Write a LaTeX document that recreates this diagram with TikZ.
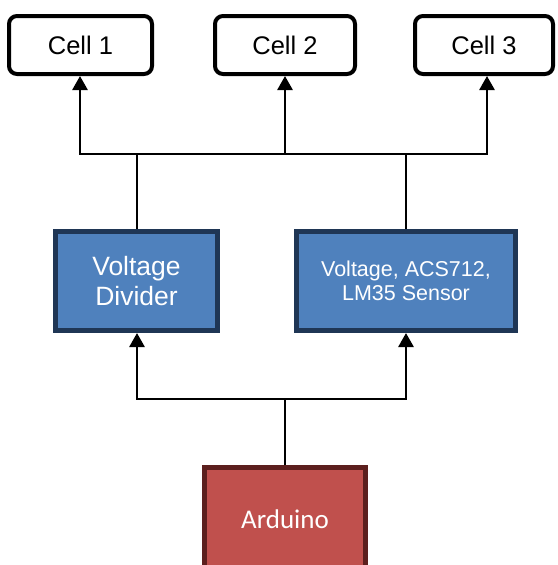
\documentclass[tikz,border=0pt]{standalone}
\usepackage{fontspec}
\setmainfont{Liberation Sans}
\newfontfamily\calib{Carlito}
\usetikzlibrary{arrows.meta}
\definecolor{bfill}{HTML}{4F81BD}
\definecolor{bdraw}{HTML}{1F3655}
\definecolor{rfill}{HTML}{C0504D}
\definecolor{rdraw}{HTML}{5C1F1E}
\begin{document}
\begin{tikzpicture}[x=1pt,y=-1pt,
  cellbox/.style={draw=black,line width=4pt,rounded corners=8pt,fill=white,minimum width=142pt,minimum height=58pt,inner sep=0pt,font=\fontsize{25.5}{28}\selectfont},
  bluebox/.style={draw=bdraw,fill=bfill,line width=5pt,minimum height=99pt,inner sep=0pt,text=white,align=center},
  redbox/.style={draw=rdraw,fill=rfill,line width=5pt,minimum width=161pt,minimum height=102.5pt,inner sep=0pt,text=white,font=\calib\fontsize{27}{30}\selectfont},
  wire/.style={line width=2.7pt,line cap=rect},
  arr/.style={line width=2.7pt,-{Triangle[length=14pt,width=15pt]}}
]
\useasboundingbox (0,0) rectangle (557,565);
\node[cellbox,minimum width=143pt] (c1) at (80.5,45) {Cell 1};
\node[cellbox,minimum width=140pt] (c2) at (285,45) {Cell 2};
\node[cellbox,minimum width=138pt] (c3) at (484,45) {Cell 3};
\node[bluebox,minimum width=162pt,font=\fontsize{26.5}{30}\selectfont] (vd) at (136.5,281) {Voltage\\Divider};
\node[bluebox,minimum width=219pt,font=\fontsize{21.5}{24.5}\selectfont] (sen) at (406,281) {Voltage, ACS712,\\LM35 Sensor};
\node[redbox] (ard) at (285,518.75) {Arduino};
% top bus
\coordinate (t1) at (80,154);
\coordinate (t2) at (285,154);
\coordinate (t3) at (487,154);
\coordinate (tv) at (137,154);
\coordinate (ts) at (406,154);
\draw[wire] (t1) -- (t3);
\draw[arr] (t1) -- (t1 |- c1.south);
\draw[arr] (t2) -- (t2 |- c2.south);
\draw[arr] (t3) -- (t3 |- c3.south);
\draw[wire,line cap=butt] (tv |- vd.north) -- (tv);
\draw[wire,line cap=butt] (ts |- sen.north) -- (ts);
% bottom bus
\coordinate (bv) at (137,399);
\coordinate (bs) at (406,399);
\coordinate (ba) at (285,399);
\draw[wire] (bv) -- (bs);
\draw[arr] (bv) -- (bv |- vd.south);
\draw[arr] (bs) -- (bs |- sen.south);
\draw[wire,line cap=butt] (ard.north) -- (ba);
\end{tikzpicture}
\end{document}
